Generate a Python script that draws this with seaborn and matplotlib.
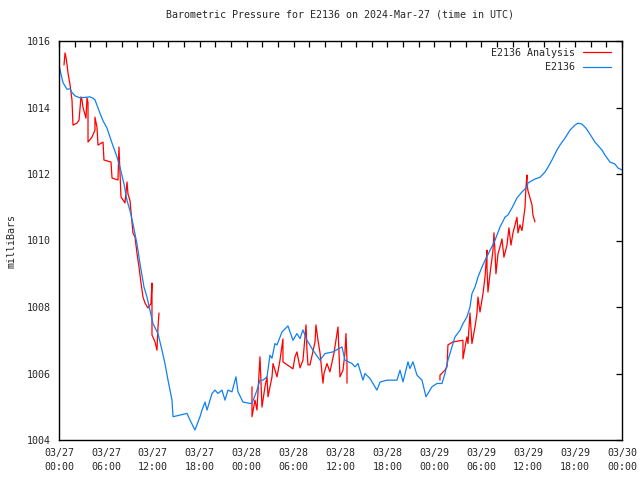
import matplotlib
matplotlib.use('Agg')
import matplotlib.pyplot as plt
import matplotlib.dates as mdates
import seaborn as sns
import pandas as pd

# hours after 2024-03-27 00:00 UTC and pressure in millibars
station_hours = [0.0, 0.26, 0.51, 1.02, 1.41, 1.66, 2.05, 2.69, 3.96, 4.35, 4.6, 5.24, 5.63, 6.14,
                 6.78, 7.42, 7.8, 8.31, 8.7, 9.08, 9.46, 9.97, 10.36, 10.87, 11.25, 11.64, 12.02,
                 12.66, 13.17, 13.55, 13.94, 14.45, 14.58, 15.47, 16.37, 16.75, 17.39, 18.03, 18.29,
                 18.67, 18.93, 19.57, 19.95, 20.33, 20.84, 21.23, 21.61, 22.12, 22.63, 22.89, 23.53,
                 24.42, 24.68, 25.32, 25.7, 26.09, 26.6, 26.98, 27.24, 27.62, 27.88, 28.52, 29.28,
                 29.92, 30.43, 30.82, 31.2, 31.71, 32.48, 33.38, 34.02, 35.04, 36.19, 36.57, 37.47,
                 37.85, 38.24, 38.87, 39.13, 39.77, 40.66, 41.05, 41.94, 43.22, 43.61, 43.99, 44.63,
                 44.88, 45.27, 45.78, 46.42, 46.93, 47.7, 48.34, 48.98, 49.36, 49.74, 50.64, 51.28,
                 51.66, 52.17, 52.56, 52.81, 53.2, 53.58, 54.09, 54.48, 55.12, 55.75, 56.39, 57.03,
                 57.42, 57.93, 58.57, 59.21, 59.85, 59.97, 60.87, 61.51, 62.15, 62.53, 63.04, 63.68,
                 64.07, 64.71, 65.35, 65.98, 66.37, 66.88, 67.39, 67.9, 68.54, 69.44, 69.82, 70.46,
                 71.1, 71.48, 72.0]
station_mbar = [1015.28, 1015.0, 1014.75, 1014.55, 1014.56, 1014.45, 1014.35, 1014.29, 1014.32,
                1014.28, 1014.23, 1013.83, 1013.6, 1013.38, 1012.93, 1012.51, 1012.2, 1011.7,
                1011.2, 1010.9, 1010.5, 1009.9, 1009.3, 1008.6, 1008.3, 1007.9, 1007.5, 1007.2,
                1006.7, 1006.3, 1005.8, 1005.2, 1004.7, 1004.75, 1004.8, 1004.6, 1004.3, 1004.7,
                1004.9, 1005.14, 1004.9, 1005.4, 1005.5, 1005.4, 1005.5, 1005.2, 1005.5, 1005.45,
                1005.9, 1005.45, 1005.14, 1005.1, 1005.1, 1005.5, 1005.8, 1005.8, 1005.9, 1006.55,
                1006.46, 1006.9, 1006.86, 1007.25, 1007.43, 1007.0, 1007.2, 1007.05, 1007.31,
                1007.0, 1006.7, 1006.4, 1006.6, 1006.65, 1006.8, 1006.4, 1006.3, 1006.2, 1006.3,
                1005.8, 1006.0, 1005.85, 1005.5, 1005.74, 1005.8, 1005.8, 1006.1, 1005.75,
                1006.35, 1006.15, 1006.35, 1005.95, 1005.8, 1005.3, 1005.6, 1005.7, 1005.7,
                1006.0, 1006.4, 1007.1, 1007.3, 1007.5, 1007.7, 1008.0, 1008.4, 1008.6, 1008.9,
                1009.2, 1009.4, 1009.7, 1010.0, 1010.4, 1010.7, 1010.77, 1010.98, 1011.28,
                1011.46, 1011.61, 1011.73, 1011.85, 1011.9, 1012.06, 1012.2, 1012.42, 1012.72,
                1012.87, 1013.08, 1013.32, 1013.47, 1013.53, 1013.5, 1013.38, 1013.2, 1012.96,
                1012.72, 1012.57, 1012.36, 1012.3, 1012.18, 1012.12]

# analysis comes in three runs with gaps between them
analysis_hours_1 = [0.64, 0.77, 0.9, 1.02, 1.15, 1.41, 1.66, 1.79, 2.3, 2.56, 2.69, 2.81, 2.94,
                    3.07, 3.45, 3.58, 3.71, 3.71, 4.22, 4.6, 4.6, 4.86, 4.99, 5.63, 5.75, 6.65,
                    6.78, 7.54, 7.67, 7.8, 7.93, 8.44, 8.7, 8.82, 9.08, 9.46, 9.72, 9.97, 10.23,
                    10.49, 10.74, 11.0, 11.38, 11.76, 11.89, 11.89, 12.28, 12.53, 12.66, 12.79]
analysis_mbar_1 = [1015.28, 1015.64, 1015.5, 1015.3, 1015.04, 1014.68, 1014.23, 1013.47, 1013.53,
                   1013.62, 1013.98, 1014.32, 1014.23, 1014.0, 1013.68, 1014.29, 1014.15, 1012.96,
                   1013.11, 1013.32, 1013.71, 1013.4, 1012.87, 1012.96, 1012.42, 1012.36, 1011.88,
                   1011.82, 1012.81, 1012.03, 1011.31, 1011.13, 1011.76, 1011.4, 1011.2, 1010.23,
                   1010.1, 1009.62, 1009.2, 1008.72, 1008.3, 1008.12, 1007.97, 1008.1, 1008.72,
                   1007.16, 1006.95, 1006.7, 1007.4, 1007.82]
analysis_hours_2 = [24.68, 24.68, 25.06, 25.32, 25.7, 25.96, 26.34, 26.6, 26.73, 27.24, 27.37,
                    27.88, 28.26, 28.64, 28.64, 29.92, 30.18, 30.43, 30.82, 31.2, 31.59, 31.71,
                    31.84, 32.1, 32.74, 32.86, 33.12, 33.38, 33.76, 33.89, 34.27, 34.65, 35.17,
                    35.68, 35.93, 36.32, 36.57, 36.7, 36.83, 36.83]
analysis_mbar_2 = [1005.6, 1004.7, 1005.2, 1004.9, 1006.5, 1004.99, 1005.6, 1005.9, 1005.3, 1005.9,
                   1006.3, 1005.9, 1006.4, 1007.04, 1006.35, 1006.14, 1006.5, 1006.65, 1006.17,
                   1006.4, 1007.46, 1006.7, 1006.26, 1006.26, 1006.95, 1007.46, 1007.0, 1006.62,
                   1005.71, 1006.0, 1006.3, 1006.05, 1006.62, 1007.4, 1005.9, 1006.1, 1006.62,
                   1007.2, 1006.4, 1005.71]
analysis_hours_3 = [48.72, 48.72, 49.36, 49.62, 49.74, 50.38, 51.66, 51.66, 52.17, 52.3, 52.56,
                    52.81, 53.2, 53.45, 53.58, 53.84, 54.22, 54.48, 54.73, 54.73, 54.86, 55.12,
                    55.5, 55.63, 55.75, 55.88, 56.14, 56.39, 56.65, 56.9, 57.29, 57.54, 57.8,
                    58.06, 58.57, 58.7, 58.95, 59.21, 59.59, 59.72, 59.85, 59.85, 59.97, 60.49,
                    60.61, 60.87]
analysis_mbar_3 = [1005.8, 1005.95, 1006.1, 1006.2, 1006.86, 1006.95, 1007.0, 1006.44, 1007.1,
                   1006.9, 1007.82, 1006.9, 1007.4, 1007.8, 1008.3, 1007.85, 1008.4, 1008.9,
                   1009.71, 1009.2, 1008.45, 1009.0, 1009.7, 1010.23, 1009.7, 1009.0, 1009.6,
                   1009.8, 1010.05, 1009.5, 1009.86, 1010.38, 1009.86, 1010.23, 1010.7, 1010.23,
                   1010.47, 1010.3, 1010.98, 1011.61, 1011.97, 1011.73, 1011.5, 1011.07, 1010.77,
                   1010.56]

start = pd.Timestamp('2024-03-27 00:00')


def to_frame(hours, mbar):
    return pd.DataFrame({'time': start + pd.to_timedelta(hours, unit='h'), 'mbar': mbar})


sns.set_style('white')
plt.rcParams['font.family'] = ['DejaVu Sans Mono']
plt.rcParams['font.size'] = 7.2

fig = plt.figure(figsize=(6.4, 4.8), dpi=100)
ax = fig.add_axes([59 / 640, 40 / 480, 563 / 640, 399 / 480])

runs = [(analysis_hours_1, analysis_mbar_1), (analysis_hours_2, analysis_mbar_2),
        (analysis_hours_3, analysis_mbar_3)]
for i, (h, m) in enumerate(runs):
    sns.lineplot(data=to_frame(h, m), x='time', y='mbar', ax=ax, color='#ff0000',
                 linewidth=0.9, sort=False, estimator=None,
                 label='E2136 Analysis' if i == 0 else None)
sns.lineplot(data=to_frame(station_hours, station_mbar), x='time', y='mbar', ax=ax,
             color='#1080f0', linewidth=0.9, sort=False, estimator=None, label='E2136')

ax.set_xlim(start, start + pd.Timedelta(hours=72))
ax.set_ylim(1004, 1016)
ax.set_yticks(range(1004, 1017, 2))
ax.xaxis.set_major_locator(mdates.HourLocator(byhour=[0, 6, 12, 18]))
ax.xaxis.set_minor_locator(mdates.HourLocator(interval=2))
ax.xaxis.set_major_formatter(mdates.DateFormatter('%m/%d\n%H:%M'))
ax.tick_params(which='both', direction='in', top=True, right=True, length=4,
               width=0.9, color='black', labelsize=7.2, pad=6)
for lbl in ax.get_xticklabels():
    lbl.set_linespacing(1.5)
for side in ax.spines.values():
    side.set_color('black')
    side.set_linewidth(1.0)

ax.set_xlabel('')
ax.set_ylabel('milliBars', fontsize=7.2, labelpad=7)
ax.set_title('Barometric Pressure for E2136 on 2024-Mar-27 (time in UTC)', fontsize=7.2, pad=17)
ax.legend(loc='upper right', bbox_to_anchor=(0.986, 0.99), frameon=False, markerfirst=False,
          handlelength=2.8, fontsize=7.2, borderaxespad=0.0, borderpad=0.3,
          labelspacing=0.45, handletextpad=0.8)

fig.savefig('out.png', dpi=100)
